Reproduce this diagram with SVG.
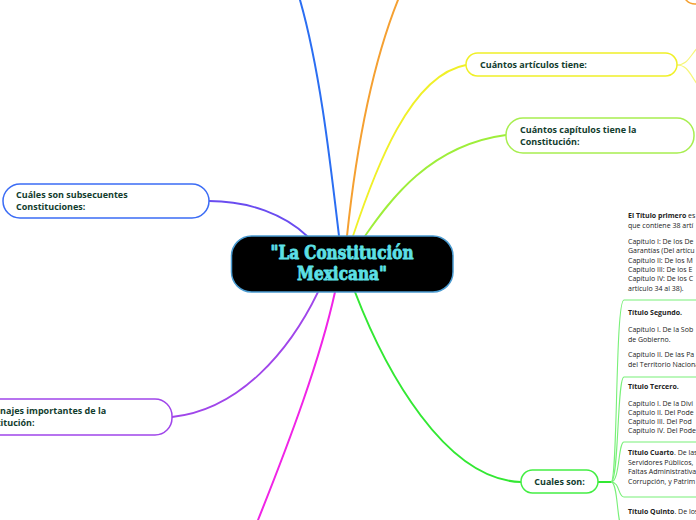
<svg xmlns="http://www.w3.org/2000/svg" width="696" height="520" viewBox="0 0 696 520">
<style>
.lbl{font-family:"Open Sans","Liberation Sans",sans-serif;font-weight:700;font-size:9px;fill:#123d2e}
.blk{font-family:"Open Sans","Liberation Sans",sans-serif;font-size:7px;fill:#222}
.blk .b{font-weight:700}
.node{fill:#fff;stroke-width:1.5}
.conn{fill:none;stroke-linecap:round}
.sub{fill:none;stroke:#78f078;stroke-width:1.1}
.ctr{font-family:"DejaVu Serif","Liberation Serif",serif;font-weight:700;font-size:19px;fill:#5de0e6;stroke:#5de0e6;stroke-width:0.9;stroke-linejoin:round}
</style>
<rect width="696" height="520" fill="#fff"/>
<g id="connectors">
  <path class="conn" d="M339,236 C330,160 320,70 300,0" stroke="#2b6ef2" stroke-width="2"/>
  <path class="conn" d="M347,236 C355,160 370,70 398,0" stroke="#f5a031" stroke-width="2"/>
  <path class="conn" d="M353,236 C375,170 410,75 466,65" stroke="#f0f028" stroke-width="1.8"/>
  <path class="conn" d="M365,236 C390,200 430,145 506,135" stroke="#9eee3a" stroke-width="1.8"/>
  <path class="conn" d="M307,236 C285,215 250,201 209,201" stroke="#6a4cf0" stroke-width="1.8"/>
  <path class="conn" d="M318,292 C290,350 240,410 172,417" stroke="#a046ea" stroke-width="1.8"/>
  <path class="conn" d="M335,292 C320,360 290,440 258,520" stroke="#f024e6" stroke-width="2"/>
  <path class="conn" d="M355,292 C385,370 445,480 521,482" stroke="#33e833" stroke-width="2"/>
  <path class="conn" d="M677,65 C688,65 690,55 700,45" stroke="#f6f67a" stroke-width="1.2"/>
  <path class="conn" d="M677,65 C688,65 690,75 700,88" stroke="#f6f67a" stroke-width="1.2"/>
  <path class="conn" d="M598,482 L611,482" stroke="#33e833" stroke-width="2"/>
  <path class="sub" d="M611,482 C618,482 615,300 624,300 L700,300"/>
  <path class="sub" d="M611,482 C619,482 617,377 624,377 L700,377"/>
  <path class="sub" d="M611,482 C620,482 618,442 624,442 L700,442"/>
  <path class="sub" d="M611,482 C620,482 618,497 624,497 L700,497"/>
  <path class="sub" d="M611,482 C619,482 616,530 624,530"/>
</g>
<g id="node-top-orange">
  <rect class="node" x="683" y="-30" width="100" height="34" rx="12" stroke="#f5a031"/>
</g>
<g id="node-center">
  <rect x="231.5" y="236" width="221.5" height="56" rx="20" fill="#000" stroke="#4a9bd1" stroke-width="1.5"/>
  <text class="ctr" x="342" y="259" text-anchor="middle" textLength="143" lengthAdjust="spacingAndGlyphs">"La Constitución</text>
  <text class="ctr" x="342" y="280" text-anchor="middle" textLength="90" lengthAdjust="spacingAndGlyphs">Mexicana"</text>
</g>
<g id="node-articulos">
  <rect class="node" x="466" y="53" width="211" height="23" rx="11.5" stroke="#f0f028"/>
  <text class="lbl" x="480" y="68">Cuántos artículos tiene:</text>
</g>
<g id="node-capitulos">
  <rect class="node" x="506" y="118" width="188" height="35" rx="17" stroke="#a8ee50"/>
  <text class="lbl" x="520" y="133">Cuántos capítulos tiene la</text>
  <text class="lbl" x="520" y="145">Constitución:</text>
</g>
<g id="node-subsecuentes">
  <rect class="node" x="3" y="184" width="206" height="34" rx="17" stroke="#3b6cf5"/>
  <text class="lbl" x="16" y="198">Cuáles son subsecuentes</text>
  <text class="lbl" x="16" y="210">Constituciones:</text>
</g>
<g id="node-personajes">
  <rect class="node" x="-30" y="399" width="202" height="36" rx="17" stroke="#a046ea"/>
  <text class="lbl" x="-25" y="414">Personajes importantes de la</text>
  <text class="lbl" x="-25" y="426">Constitución:</text>
</g>
<g id="node-cuales">
  <rect class="node" x="521" y="470" width="77" height="23" rx="11.5" stroke="#44ee44"/>
  <text class="lbl" x="559.5" y="485" text-anchor="middle">Cuales son:</text>
</g>
<g id="node-titulo1" class="blk">
  <text x="628" y="218"><tspan class="b">El Título primero</tspan> es</text>
  <text x="628" y="227.5">que contiene 38 artí</text>
  <text x="628" y="244">Capítulo I: De los De</text>
  <text x="628" y="253.3">Garantías (Del artícu</text>
  <text x="628" y="262.6">Capítulo II: De los M</text>
  <text x="628" y="271.9">Capítulo III: De los E</text>
  <text x="628" y="281.2">Capítulo IV: De los C</text>
  <text x="628" y="290.5">artículo 34 al 38).</text>
</g>
<g id="node-titulo2" class="blk">
  <text x="628" y="315" class="b">Título Segundo.</text>
  <text x="628" y="332">Capítulo I. De la Sob</text>
  <text x="628" y="341.5">de Gobierno.</text>
  <text x="628" y="357">Capítulo II. De las Pa</text>
  <text x="628" y="366.5">del Territorio Nacional.</text>
</g>
<g id="node-titulo3" class="blk">
  <text x="628" y="389" class="b">Título Tercero.</text>
  <text x="628" y="405.5">Capítulo I. De la Divi</text>
  <text x="628" y="414.5">Capítulo II. Del Pode</text>
  <text x="628" y="423.5">Capítulo III. Del Pod</text>
  <text x="628" y="432.5">Capítulo IV. Del Pode</text>
</g>
<g id="node-titulo4" class="blk">
  <text x="628" y="455"><tspan class="b">Título Cuarto</tspan>. De las</text>
  <text x="628" y="464.5">Servidores Públicos,</text>
  <text x="628" y="474">Faltas Administrativa</text>
  <text x="628" y="483.5">Corrupción, y Patrim</text>
</g>
<g id="node-titulo5" class="blk">
  <text x="628" y="514"><tspan class="b">Título Quinto</tspan>. De los</text>
</g>
</svg>
